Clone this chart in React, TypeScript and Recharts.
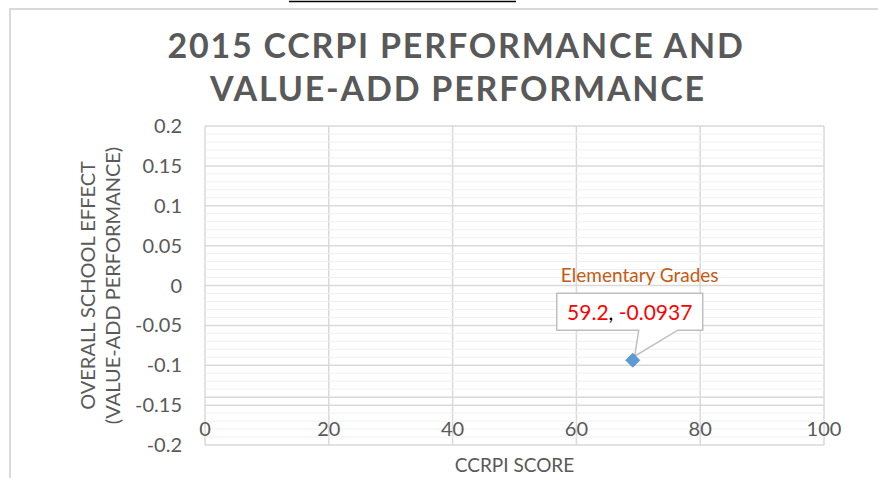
import { ScatterChart, Scatter, XAxis, YAxis, CartesianGrid, ReferenceLine } from 'recharts';

const title = ['2015 CCRPI PERFORMANCE AND', 'VALUE-ADD PERFORMANCE'];
const seriesName = 'Elementary Grades';
const xTitle = 'CCRPI SCORE';
const yTitle = ['OVERALL SCHOOL EFFECT', '(VALUE-ADD PERFORMANCE)'];

const xTicks = [0, 20, 40, 60, 80, 100];
const yTicks = [-0.2, -0.15, -0.1, -0.05, 0, 0.05, 0.1, 0.15, 0.2];
const yTickLabels = ['-0.2', '-0.15', '-0.1', '-0.05', '0', '0.05', '0.1', '0.15', '0.2'];

const scores = [69.1];
const effects = [-0.0937];
const pointLabels = [['59.2', '-0.0937']];

const crossLine = -0.14;

const data = scores.map((x, i) => ({ x, y: effects[i], label: pointLabels[i] }));

// four faint minor lines between each pair of major ticks
const minorTicks: number[] = [];
for (let i = 0; i < yTicks.length - 1; i++) {
  const step = (yTicks[i + 1] - yTicks[i]) / 5;
  for (let k = 1; k < 5; k++) minorTicks.push(+(yTicks[i] + step * k).toFixed(4));
}

const TEXT = '#595959';
const GRID = '#d9d9d9';
const FONT = 'Lato, "Open Sans", sans-serif';

const CalloutPoint = (props: any) => {
  const { cx, cy, payload } = props;
  const left = cx - 76;
  const right = cx + 70;
  const top = cy - 67;
  const bottom = cy - 30;
  const path = `M${left},${top} H${right} V${bottom} H${cx + 45} L${cx + 2},${cy - 4} L${cx + 6},${bottom} H${left} Z`;
  return (
    <g>
      <text x={cx + 7} y={cy - 85} textAnchor="middle" dy="0.35em" fontSize={19} fill="#c55a11" fontFamily={FONT}>
        {seriesName}
      </text>
      <path d={path} fill="#ffffff" stroke="#bfbfbf" strokeWidth={1.5} />
      <text x={cx - 3} y={cy - 48} textAnchor="middle" dy="0.35em" fontSize={21} fontFamily={FONT}>
        <tspan fill="#ff0000">{payload.label[0]}</tspan>
        <tspan fill="#000000">, </tspan>
        <tspan fill="#ff0000">{payload.label[1]}</tspan>
      </text>
      <path d={`M${cx},${cy - 7} L${cx + 7},${cy} L${cx},${cy + 7} L${cx - 7},${cy} Z`} fill="#5b9bd5" stroke="#4a8ac4" strokeWidth={0.8} />
    </g>
  );
};

const XTick = (props: any) => (
  <text x={props.x} y={props.y - 16} dy="0.35em" textAnchor="middle" fontSize={20} fill={TEXT} fontFamily={FONT}>
    {props.payload.value}
  </text>
);

const YTitle = (props: any) => {
  const { viewBox } = props;
  const cy = viewBox.y + viewBox.height / 2;
  const x1 = viewBox.x - 57;
  const x2 = viewBox.x - 32;
  return (
    <g fontSize={20} fill={TEXT} fontFamily={FONT} textAnchor="middle">
      <text x={x1} y={cy} dy="0.35em" transform={`rotate(-90 ${x1} ${cy})`}>{yTitle[0]}</text>
      <text x={x2} y={cy} dy="0.35em" transform={`rotate(-90 ${x2} ${cy})`}>{yTitle[1]}</text>
    </g>
  );
};

const XTitle = (props: any) => {
  const { viewBox } = props;
  return (
    <text x={viewBox.x + viewBox.width / 2} y={viewBox.y + 20} dy="0.35em" textAnchor="middle" fontSize={19} fill={TEXT} fontFamily={FONT}>
      {xTitle}
    </text>
  );
};

export default function App() {
  return (
    <div style={{ position: 'absolute', left: 0, top: 0, width: 878, height: 478, background: '#fff', overflow: 'hidden' }}>
      <svg width={878} height={478} style={{ position: 'absolute', left: 0, top: 0 }}>
        <line x1={289} x2={516} y1={1.5} y2={1.5} stroke="#000" strokeWidth={1.5} />
        <path d="M10,478 V9 H878" fill="none" stroke="#d9d9d9" strokeWidth={2} />
        <g fontFamily={FONT} fontWeight={700} fontSize={34} fill={TEXT} letterSpacing={1.8} textAnchor="middle">
          <text x={456} y={58}>{title[0]}</text>
          <text x={458} y={101}>{title[1]}</text>
        </g>
      </svg>
      <div style={{ position: 'absolute', left: 0, top: 0 }}>
        <ScatterChart width={878} height={478} margin={{ top: 126, right: 54, bottom: 0, left: 145 }}>
          {minorTicks.map((v) => (
            <ReferenceLine key={v} y={v} stroke="#f0f0f0" strokeWidth={1} />
          ))}
          <ReferenceLine y={crossLine} stroke={GRID} strokeWidth={1.5} />
          <CartesianGrid stroke={GRID} strokeWidth={1.5} />
          <XAxis
            type="number"
            dataKey="x"
            domain={[0, 100]}
            ticks={xTicks}
            height={33}
            axisLine={false}
            tickLine={false}
            tickSize={0}
            tickMargin={0}
            tick={<XTick />}
            label={<XTitle />}
          />
          <YAxis
            type="number"
            dataKey="y"
            domain={[-0.2, 0.2]}
            ticks={yTicks}
            width={60}
            axisLine={false}
            tickLine={false}
            tickSize={0}
            tickMargin={23}
            tickFormatter={(v: number) => yTickLabels[yTicks.indexOf(v)] ?? String(v)}
            tick={{ fontSize: 20, fill: TEXT, fontFamily: FONT }}
            label={<YTitle />}
          />
          <Scatter name={seriesName} data={data} shape={<CalloutPoint />} isAnimationActive={false} />
        </ScatterChart>
      </div>
    </div>
  );
}
